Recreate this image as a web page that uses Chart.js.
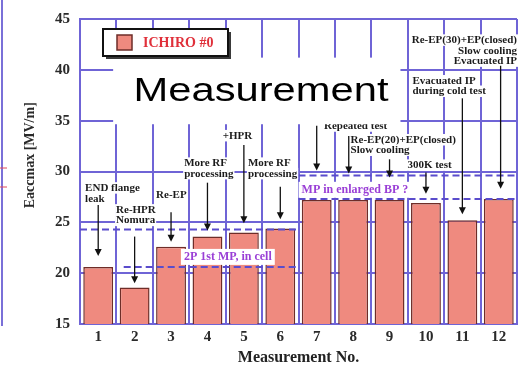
<!DOCTYPE html>
<html>
<head>
<meta charset="utf-8">
<script src="https://cdn.jsdelivr.net/npm/chart.js@4.4.1/dist/chart.umd.min.js"></script>
<style>
html,body{margin:0;padding:0;background:#ffffff;overflow:hidden;}
canvas{display:block;}
</style>
</head>
<body>
<canvas id="chart" width="521" height="368"></canvas>
<script>
// ---- data ----
const categories = ['1','2','3','4','5','6','7','8','9','10','11','12'];
const seriesLabel = 'ICHIRO #0';
const eaccValues = [20.6, 18.6, 22.6, 23.6, 24.0, 24.4, 27.2, 27.2, 27.2, 26.9, 25.2, 27.3];
const yTickValues = [15, 20, 25, 30, 35, 40, 45];
const xAxisTitle = 'Measurement No.';
const yAxisTitle = 'Eaccmax [MV/m]';
const overlayTitle = 'Measurement';
const noteTexts = [
  ['END flange', 'leak'],
  ['Re-HPR', 'Nomura'],
  ['Re-EP'],
  ['More RF', 'processing'],
  ['+HPR'],
  ['More RF', 'processing'],
  ['Repeated test'],
  ['Re-EP(20)+EP(closed)', 'Slow cooling'],
  [],
  ['300K test'],
  ['Evacuated IP', 'during cold test'],
  ['Re-EP(30)+EP(closed)', 'Slow cooling', 'Evacuated IP']
];
const mpLabels = ['2P 1st MP, in cell', 'MP in enlarged BP ?'];
// annotation anchors in data units: [category (1-based), value, align]
const noteAnchors = [
  [0.64, 28.36, 'left'], [1.49, 26.2, 'left'], [2.59, 27.7, 'left'], [3.36, 30.8, 'left'],
  [4.42, 33.5, 'left'], [5.11, 30.8, 'left'], [7.2, 34.45, 'left'], [7.93, 33.1, 'left'],
  null, [9.49, 30.6, 'left'], [9.63, 38.9, 'left'], [12.5, 42.9, 'right']
];
// arrows: [category, from value, to value]
const arrowSpecs = [
  [1, 26.7, 21.7], [2, 23.6, 19.0], [3, 26.0, 23.1], [4, 28.9, 24.2], [5, 32.6, 24.9],
  [6, 28.5, 25.3], [7, 34.5, 30.1], [7.88, 33.5, 29.8], [9, 31.2, 29.4], [10, 29.9, 27.8],
  [11, 37.2, 25.8], [12.05, 40.4, 28.3]
];
// dashed levels: [from category, to category, value]
const dashedLevels = [[0.5, 6.5, 24.3], [1.7, 6.5, 20.6], [6.5, 12.5, 29.6], [6.5, 12.5, 27.3]];
const mpAnchors = [[4.56, 21.6], [8.05, 28.2]];

// ---- styles ----
const serif = '"Liberation Serif","Times New Roman",serif';
const gridPurple = '#6f64d6';
const barFill = '#ef8a7f';
const barEdge = '#6e2d28';

const notesPlugin = {
  id: 'notes',
  afterDatasetsDraw(chart) {
    const ctx = chart.ctx, xs = chart.scales.x, ys = chart.scales.y, a = chart.chartArea;
    const X = c => xs.getPixelForValue(c - 1);
    const Y = v => ys.getPixelForValue(v);
    ctx.save();

    // stray edge of neighbouring figure
    ctx.strokeStyle = '#7a70d8'; ctx.lineWidth = 2;
    ctx.beginPath(); ctx.moveTo(2, 0); ctx.lineTo(2, a.bottom + 2); ctx.stroke();
    ctx.strokeStyle = '#e04a5a'; ctx.lineWidth = 1;
    [168, 187].forEach(y => { ctx.beginPath(); ctx.moveTo(0, y); ctx.lineTo(7, y); ctx.stroke(); });

    // dashed levels
    ctx.strokeStyle = '#5a4ccc'; ctx.lineWidth = 2; ctx.setLineDash([7, 4]);
    dashedLevels.forEach(([c1, c2, v]) => {
      ctx.beginPath(); ctx.moveTo(X(c1), Y(v)); ctx.lineTo(X(c2), Y(v)); ctx.stroke();
    });
    ctx.setLineDash([]);

    // notes
    ctx.font = 'bold 11px ' + serif; ctx.textBaseline = 'middle';
    noteTexts.forEach((lines, i) => {
      const anc = noteAnchors[i];
      if (!anc || !lines.length) return;
      const [c, v, al] = anc; const x = X(c), y = Y(v);
      ctx.textAlign = al;
      lines.forEach((t, k) => {
        const w = ctx.measureText(t).width;
        const lx = al === 'right' ? x - w : x;
        ctx.fillStyle = '#ffffff'; ctx.fillRect(lx - 1, y + k * 10.5 - 6, w + 2, 11.5);
        ctx.fillStyle = '#1b1b1b'; ctx.fillText(t, x, y + k * 10.5);
      });
    });

    // arrows
    ctx.strokeStyle = '#111'; ctx.fillStyle = '#111'; ctx.lineWidth = 1.3;
    arrowSpecs.forEach(([c, v1, v2]) => {
      const x = X(c), y1 = Y(v1), y2 = Y(v2);
      ctx.beginPath(); ctx.moveTo(x, y1); ctx.lineTo(x, y2 - 5); ctx.stroke();
      ctx.beginPath(); ctx.moveTo(x - 3.5, y2 - 7); ctx.lineTo(x + 3.5, y2 - 7); ctx.lineTo(x, y2); ctx.closePath(); ctx.fill();
    });

    // multipacting labels
    ctx.font = 'bold 12px ' + serif; ctx.textAlign = 'center';
    mpLabels.forEach((t, i) => {
      const [c, v] = mpAnchors[i]; const x = X(c), y = Y(v);
      const w = ctx.measureText(t).width;
      ctx.fillStyle = '#ffffff'; ctx.fillRect(x - w / 2 - 3, y - 8, w + 6, 16);
      ctx.fillStyle = '#9a3fd6'; ctx.fillText(t, x, y);
    });

    // overlay caption
    const bx1 = X(1.41), bx2 = X(9.3), by1 = Y(41.2), by2 = Y(34.65);
    ctx.fillStyle = '#ffffff'; ctx.fillRect(bx1, by1, bx2 - bx1, by2 - by1);
    ctx.font = '33px "Liberation Sans", Arial, sans-serif';
    ctx.textAlign = 'center'; ctx.textBaseline = 'alphabetic';
    const tw = ctx.measureText(overlayTitle).width;
    const sx = 255 / tw;
    ctx.save();
    ctx.translate(X(5.47), Y(36.97));
    ctx.scale(sx, 1);
    ctx.fillStyle = '#000000'; ctx.fillText(overlayTitle, 0, 0);
    ctx.restore();

    // legend
    const lx = a.left + 23, ly = a.top + 10, lw = 125, lh = 27;
    ctx.fillStyle = '#3a3a3a'; ctx.fillRect(lx + 3, ly + 3, lw, lh);
    ctx.fillStyle = '#ffffff'; ctx.fillRect(lx, ly, lw, lh);
    ctx.strokeStyle = '#111'; ctx.lineWidth = 2; ctx.strokeRect(lx, ly, lw, lh);
    ctx.fillStyle = barFill; ctx.fillRect(lx + 14, ly + 6, 15, 15);
    ctx.strokeStyle = barEdge; ctx.lineWidth = 1.5; ctx.strokeRect(lx + 14, ly + 6, 15, 15);
    ctx.font = 'bold 14px ' + serif; ctx.textAlign = 'left'; ctx.textBaseline = 'middle';
    ctx.fillStyle = '#e0303a'; ctx.fillText(chart.data.datasets[0].label, lx + 40, ly + lh / 2 + 1);

    // y-axis title
    ctx.save();
    ctx.translate(30, Y(31.6));
    ctx.rotate(-Math.PI / 2);
    ctx.font = 'bold 14px ' + serif; ctx.textAlign = 'center'; ctx.textBaseline = 'middle';
    ctx.fillStyle = '#2a2a2a'; ctx.fillText(yAxisTitle, 0, 0);
    ctx.restore();

    ctx.restore();
  }
};

new Chart(document.getElementById('chart'), {
  type: 'bar',
  data: {
    labels: categories,
    datasets: [{
      label: seriesLabel,
      data: eaccValues,
      backgroundColor: barFill,
      borderColor: barEdge,
      borderWidth: 1.5,
      barPercentage: 0.82,
      categoryPercentage: 1
    }]
  },
  options: {
    responsive: false,
    animation: false,
    devicePixelRatio: 1,
    layout: { padding: { top: 14, right: 4, left: 0, bottom: 0 } },
    plugins: { legend: { display: false }, tooltip: { enabled: false }, title: { display: false } },
    scales: {
      x: {
        grid: { color: gridPurple, lineWidth: 2, offset: true, drawTicks: false },
        border: { color: gridPurple, width: 2 },
        ticks: { font: { family: serif, size: 15, weight: 'bold' }, color: '#2a2a2a', padding: 4 },
        title: { display: true, text: xAxisTitle, font: { family: serif, size: 16, weight: 'bold' }, color: '#222', padding: { top: 0, bottom: 1 } },
        afterFit(s) { s.height = 44; }
      },
      y: {
        min: 15, max: 45,
        afterBuildTicks(s) { s.ticks = yTickValues.map(v => ({ value: v })); },
        grid: { color: gridPurple, lineWidth: 2, drawTicks: false },
        border: { color: gridPurple, width: 2 },
        ticks: { font: { family: serif, size: 15, weight: 'bold' }, color: '#2a2a2a', padding: 10 },
        afterFit(s) { s.width = 80; }
      }
    }
  },
  plugins: [notesPlugin]
});
</script>
</body>
</html>
